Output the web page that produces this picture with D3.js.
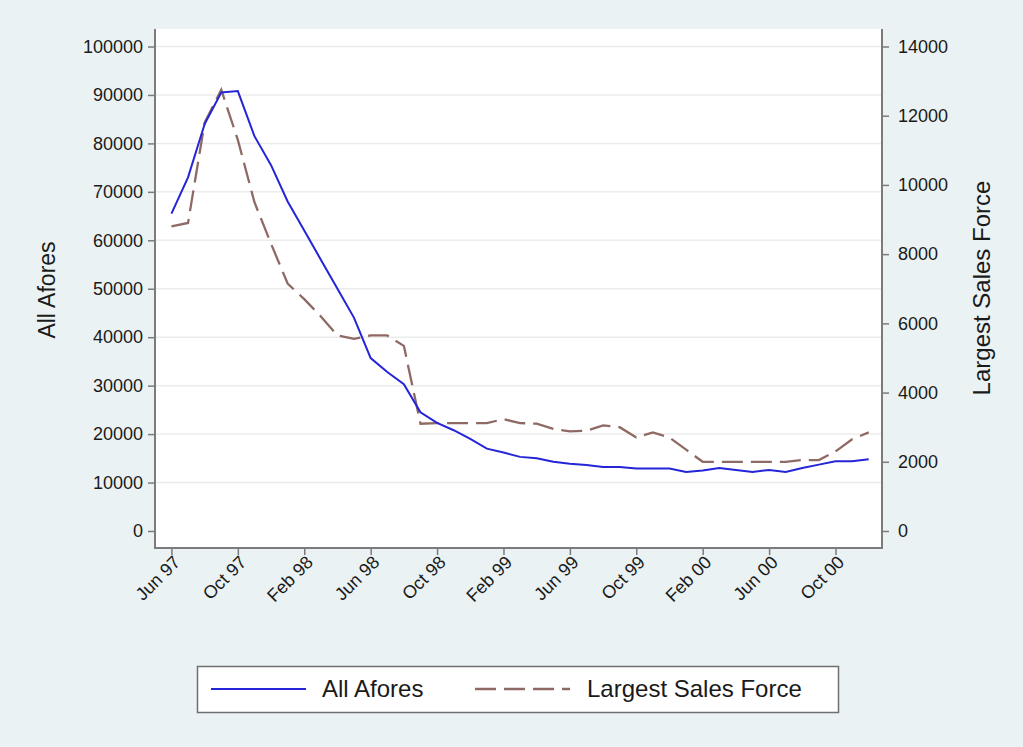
<!DOCTYPE html>
<html>
<head>
<meta charset="utf-8">
<script src="https://cdn.jsdelivr.net/npm/d3@7"></script>
<style>
  body { margin: 0; background: #eaf2f3; }
  svg { display: block; }
  text { font-family: "Liberation Sans", Arial, sans-serif; fill: #1a1a1a; }
</style>
</head>
<body>
<svg width="1023" height="747"></svg>
<script>
// months from Jun 97 to Dec 00 (index 0..42)
var months = d3.range(43);

var tickMonths = [0, 4, 8, 12, 16, 20, 24, 28, 32, 36, 40];
var tickLabels = ["Jun 97", "Oct 97", "Feb 98", "Jun 98", "Oct 98", "Feb 99",
                  "Jun 99", "Oct 99", "Feb 00", "Jun 00", "Oct 00"];

var leftTicks = [0, 10000, 20000, 30000, 40000, 50000, 60000, 70000, 80000, 90000, 100000];
var rightTicks = [0, 2000, 4000, 6000, 8000, 10000, 12000, 14000];

// All Afores (left axis)
var allAfores = [65500, 73000, 84000, 90500, 90800, 81500, 75500, 68000, 62000, 56000,
                 50000, 44000, 35700, 32800, 30300, 24500, 22300, 20800, 19000, 17000,
                 16200, 15300, 15000, 14300, 13900, 13600, 13200, 13200, 12900, 12900,
                 12900, 12200, 12500, 13000, 12600, 12200, 12600, 12200, 13000, 13700,
                 14400, 14400, 14800];

// Largest Sales Force (right axis)
var largestForce = [8800, 8900, 11800, 12750, 11300, 9500, 8300, 7150, 6700, 6200,
                    5650, 5550, 5650, 5650, 5350, 3100, 3120, 3120, 3120, 3120,
                    3230, 3120, 3100, 2950, 2880, 2900, 3050, 3000, 2700, 2850,
                    2700, 2350, 2000, 2000, 2000, 2000, 2000, 2000, 2050, 2050,
                    2300, 2650, 2850];

var seriesNames = ["All Afores", "Largest Sales Force"];

var svg = d3.select("svg");

var plot = { left: 155, right: 882, top: 29, bottom: 548 };

var x = d3.scaleLinear().domain([-0.99, 42.8]).range([plot.left, plot.right]);
var yL = d3.scaleLinear().domain([0, 100000]).range([531, 46.5]);
var yR = d3.scaleLinear().domain([0, 14000]).range([531, 46.5]);

// plot area
svg.append("rect")
  .attr("x", plot.left).attr("y", plot.top)
  .attr("width", plot.right - plot.left).attr("height", plot.bottom - plot.top)
  .attr("fill", "#ffffff");

// gridlines
svg.append("g").selectAll("line")
  .data(leftTicks.slice(1))
  .enter().append("line")
    .attr("x1", plot.left).attr("x2", plot.right)
    .attr("y1", function(d) { return yL(d); })
    .attr("y2", function(d) { return yL(d); })
    .attr("stroke", "#ececec")
    .attr("stroke-width", 1.5);

// left axis
var gL = svg.append("g")
  .attr("transform", "translate(" + plot.left + ",0)")
  .call(d3.axisLeft(yL).tickValues(leftTicks).tickFormat(d3.format("d")).tickSize(7).tickPadding(5));

// right axis
var gR = svg.append("g")
  .attr("transform", "translate(" + plot.right + ",0)")
  .call(d3.axisRight(yR).tickValues(rightTicks).tickFormat(d3.format("d")).tickSize(7).tickPadding(9));

// bottom axis
var gB = svg.append("g")
  .attr("transform", "translate(0," + plot.bottom + ")")
  .call(d3.axisBottom(x).tickValues(tickMonths)
    .tickFormat(function(d, i) { return tickLabels[i]; }).tickSize(7));

[gL, gR, gB].forEach(function(g) {
  g.select(".domain").remove();
  g.selectAll(".tick line").attr("stroke", "#7b7b7b").attr("stroke-width", 1.5);
  g.selectAll(".tick text").style("font-size", "18px").attr("fill", "#1f1f1f");
});

gB.selectAll(".tick text")
  .attr("text-anchor", "end")
  .attr("dy", null)
  .attr("transform", "translate(6,12) rotate(-45)")
  .attr("x", 0).attr("y", 0)
  .attr("dominant-baseline", "middle");

// axis lines
var axisColor = "#7b7b7b";
svg.append("line").attr("x1", plot.left).attr("x2", plot.left)
  .attr("y1", plot.top).attr("y2", plot.bottom)
  .attr("stroke", axisColor).attr("stroke-width", 2);
svg.append("line").attr("x1", plot.right).attr("x2", plot.right)
  .attr("y1", plot.top).attr("y2", plot.bottom)
  .attr("stroke", axisColor).attr("stroke-width", 2);
svg.append("line").attr("x1", plot.left - 1).attr("x2", plot.right + 1)
  .attr("y1", plot.bottom).attr("y2", plot.bottom)
  .attr("stroke", axisColor).attr("stroke-width", 2);

// lines
var lineL = d3.line()
  .x(function(d, i) { return x(months[i]); })
  .y(function(d) { return yL(d); });
var lineR = d3.line()
  .x(function(d, i) { return x(months[i]); })
  .y(function(d) { return yR(d); });

svg.append("path")
  .datum(largestForce)
  .attr("d", lineR)
  .attr("fill", "none")
  .attr("stroke", "#8f6a64")
  .attr("stroke-width", 2.3)
  .attr("stroke-dasharray", "21,8");

svg.append("path")
  .datum(allAfores)
  .attr("d", lineL)
  .attr("fill", "none")
  .attr("stroke", "#2424d8")
  .attr("stroke-width", 2);

// axis titles
svg.append("text")
  .attr("transform", "translate(55,290) rotate(-90)")
  .attr("text-anchor", "middle")
  .style("font-size", "23px")
  .text(seriesNames[0]);

svg.append("text")
  .attr("transform", "translate(990,288) rotate(-90)")
  .attr("text-anchor", "middle")
  .style("font-size", "24px")
  .text(seriesNames[1]);

// legend
var legend = svg.append("g");
legend.append("rect")
  .attr("x", 197.5).attr("y", 666.5)
  .attr("width", 641).attr("height", 46)
  .attr("fill", "#ffffff")
  .attr("stroke", "#6f6f6f")
  .attr("stroke-width", 1.5);

legend.append("line")
  .attr("x1", 211).attr("x2", 306).attr("y1", 689).attr("y2", 689)
  .attr("stroke", "#2424d8").attr("stroke-width", 2);
legend.append("text")
  .attr("x", 322).attr("y", 697)
  .style("font-size", "24px")
  .text(seriesNames[0]);

legend.append("line")
  .attr("x1", 475).attr("x2", 570).attr("y1", 689).attr("y2", 689)
  .attr("stroke", "#8f6a64").attr("stroke-width", 2.3)
  .attr("stroke-dasharray", "21,8");
legend.append("text")
  .attr("x", 587).attr("y", 697)
  .style("font-size", "24px")
  .text(seriesNames[1]);
</script>
</body>
</html>
